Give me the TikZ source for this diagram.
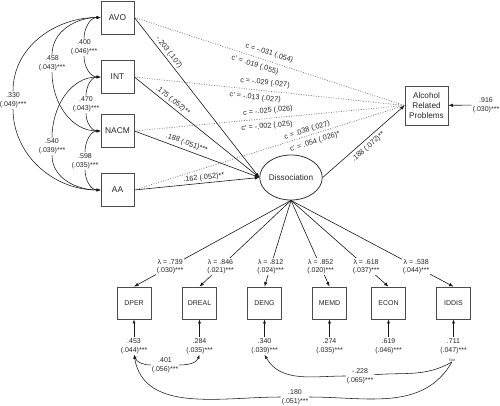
\documentclass[tikz,border=0pt]{standalone}
\usepackage{fontspec}
\setmainfont{Liberation Sans}
\usetikzlibrary{arrows.meta,shapes.geometric}
\begin{document}
\begin{tikzpicture}[x=1pt,y=1pt,
  every node/.style={text=black!85},
  box/.style={draw=black!70, line width=0.8pt, minimum width=33pt, minimum height=33pt, inner sep=0pt, font=\fontsize{8.4}{10}\selectfont},
  ind/.style={box, minimum width=34pt, minimum height=32pt, font=\fontsize{7}{8}\selectfont},
  lat/.style={ellipse, draw=black!80, line width=0.8pt, minimum width=55pt, minimum height=45pt, inner sep=0pt, font=\fontsize{8.2}{10}\selectfont},
  tipA/.style={-{Latex[length=4.5pt,width=3.5pt]}},
  solidln/.style={tipA, line width=0.6pt, draw=black!90},
  dotln/.style={draw=black!50, line width=0.8pt, dash pattern=on 0.9pt off 1.6pt},
  plab/.style={font=\fontsize{7.3}{8.5}\selectfont, sloped, inner sep=1.5pt},
  slab/.style={font=\fontsize{7}{8.8}\selectfont, align=center, inner sep=1pt},
  covln/.style={line width=0.55pt, draw=black!90},
  covtip/.style={covln, -{Latex[length=4pt,width=3pt]}}
]
\useasboundingbox (0,0) rectangle (500,-406);

% exogenous boxes
\node[box] (AVO)  at (117.5,-17.5) {AVO};
\node[box] (INT)  at (117.5,-77)   {INT};
\node[box] (NACM) at (117.5,-131)  {NACM};
\node[box] (AA)   at (117.5,-190)  {AA};

% latent mediator and outcome
\node[lat] (D) at (291,-177.5) {Dissociation};
\node[box, minimum width=43pt, minimum height=39pt, align=center, font=\fontsize{8.2}{10}\selectfont] (ARP) at (426.5,-105.5) {Alcohol\\Related\\Problems};
\node[slab] (eARP) at (486,-105) {.916\\(.030)***};
\draw[solidln] (eARP) -- (ARP);

% direct (dotted) paths
\draw[dotln] (AVO.east) -- node[plab, pos=.49, above=2.5pt] {c = -.031 (.054)} node[plab, pos=.455, below=2.5pt] {c' = .019 (.055)} (ARP.west);
\draw[dotln] (INT.east) -- node[plab, pos=.48, above=2.5pt] {c = -.029 (.027)} node[plab, pos=.45, below=2.5pt] {c' = -.013 (.027)} (ARP.west);
\draw[dotln] (NACM.east) -- node[plab, pos=.497, above=2pt] {c = -.025 (.026)} node[plab, pos=.488, below=2.5pt] {c' = -.002 (.025)} (ARP.west);
\draw[dotln] (AA.east) -- node[plab, pos=.645, above=0pt] {c = .038 (.027)} node[plab, pos=.66, below=2.5pt] {c' = .054 (.026)*} (ARP.west);

% a paths
\draw[solidln] (AVO.east) -- node[plab, pos=.24, above=0.5pt] {-.203 (.107)} (D.west);
\draw[solidln] (INT.east) -- node[plab, pos=.28, above=0.5pt] {.175 (.052)**} (D.west);
\draw[solidln] (NACM.east) -- node[plab, pos=.40, above=1.5pt] {.188 (.051)***} (D.west);
\draw[solidln] (AA.east) -- node[plab, pos=.56, above=0pt] {.162 (.052)**} (D.west);
% b path
\draw[solidln] (D.east) -- node[plab, pos=.5, below=2pt] {.188 (.072)**} (ARP.west);

% covariances among predictors
\node[slab] (c400) at (84,-47.5)  {.400\\(.046)***};
\node[slab] (c458) at (52,-63.5)  {.458\\(.043)***};
\node[slab] (c330) at (13,-100)   {.330\\(.049)***};
\node[slab] (c470) at (86,-104.5) {.470\\(.043)***};
\node[slab] (c540) at (52,-146.5) {.540\\(.039)***};
\node[slab] (c598) at (85,-161)   {.598\\(.035)***};
\draw[covtip] (c400) to[out=90,in=180] (AVO.west);
\draw[covtip] (c400) to[out=-90,in=180] (INT.west);
\draw[covtip] (c458) to[out=90,in=180] (AVO.west);
\draw[covtip] (c458) to[out=-90,in=180] (NACM.west);
\draw[covtip] (c330) to[out=90,in=180] (AVO.west);
\draw[covtip] (c330) to[out=-90,in=180] (AA.west);
\draw[covtip] (c470) to[out=90,in=180] (INT.west);
\draw[covtip] (c470) to[out=-90,in=180] (NACM.west);
\draw[covtip] (c540) to[out=90,in=180] (INT.west);
\draw[covtip] (c540) to[out=-90,in=180] (AA.west);
\draw[covtip] (c598) to[out=90,in=180] (NACM.west);
\draw[covtip] (c598) to[out=-90,in=180] (AA.west);

% indicators
\node[ind] (DPER)  at (134,-303)   {DPER};
\node[ind] (DREAL) at (199.5,-303) {DREAL};
\node[ind] (DENG)  at (264.5,-303) {DENG};
\node[ind] (MEMD)  at (329.5,-303) {MEMD};
\node[ind] (ECON)  at (388.5,-303) {ECON};
\node[ind] (IDDIS) at (453.5,-303) {IDDIS};

% loadings
\draw[solidln] (D.south) -- node[slab, pos=.77, fill=white] {λ = .739\\(.030)***} (DPER.north);
\draw[solidln] (D.south) -- node[slab, pos=.77, fill=white] {λ = .846\\(.021)***} (DREAL.north);
\draw[solidln] (D.south) -- node[slab, pos=.77, fill=white] {λ = .812\\(.024)***} (DENG.north);
\draw[solidln] (D.south) -- node[slab, pos=.77, fill=white] {λ = .852\\(.020)***} (MEMD.north);
\draw[solidln] (D.south) -- node[slab, pos=.77, fill=white] {λ = .618\\(.037)***} (ECON.north);
\draw[solidln] (D.south) -- node[slab, pos=.77, fill=white] {λ = .538\\(.044)***} (IDDIS.north);

% residuals
\node[slab] (rDPER)  at (134,-346)   {.453\\(.044)***};
\node[slab] (rDREAL) at (199.5,-346) {.284\\(.035)***};
\node[slab] (rDENG)  at (264.5,-346) {.340\\(.039)***};
\node[slab] (rMEMD)  at (329.5,-346) {.274\\(.035)***};
\node[slab] (rECON)  at (388.5,-346) {.619\\(.046)***};
\node[slab] (rIDDIS) at (453.5,-346) {.711\\(.047)***};
\draw[covtip] (rDPER) -- (DPER);
\draw[covtip] (rDREAL) -- (DREAL);
\draw[covtip] (rDENG) -- (DENG);
\draw[covtip] (rMEMD) -- (MEMD);
\draw[covtip] (rECON) -- (ECON);
\draw[covtip] (rIDDIS) -- (IDDIS);

\node[font=\fontsize{3.5}{4}\selectfont, inner sep=0.5pt] (Txt) at (452,-360) {Text};

% residual covariances
\node[slab] (c401) at (165,-365) {.401\\(.056)***};
\node[slab] (c228) at (360,-376) {-.228\\(.065)***};
\node[slab] (c180) at (295,-397) {.180\\(.051)***};
\draw[covtip] (c401) to[out=180,in=-70] (rDPER.south);
\draw[covtip] (c401) to[out=0,in=-110] (rDREAL.south);
\draw[covtip] (c228) to[out=180,in=-60] (rDENG.south);
\draw[covln] (c228) to[out=5,in=-150] (Txt.south);
\draw[covtip] (c180) to[out=180,in=-80] (rDPER.south);
\draw[covln] (c180) to[out=0,in=-120] (Txt.south);
\end{tikzpicture}
\end{document}
